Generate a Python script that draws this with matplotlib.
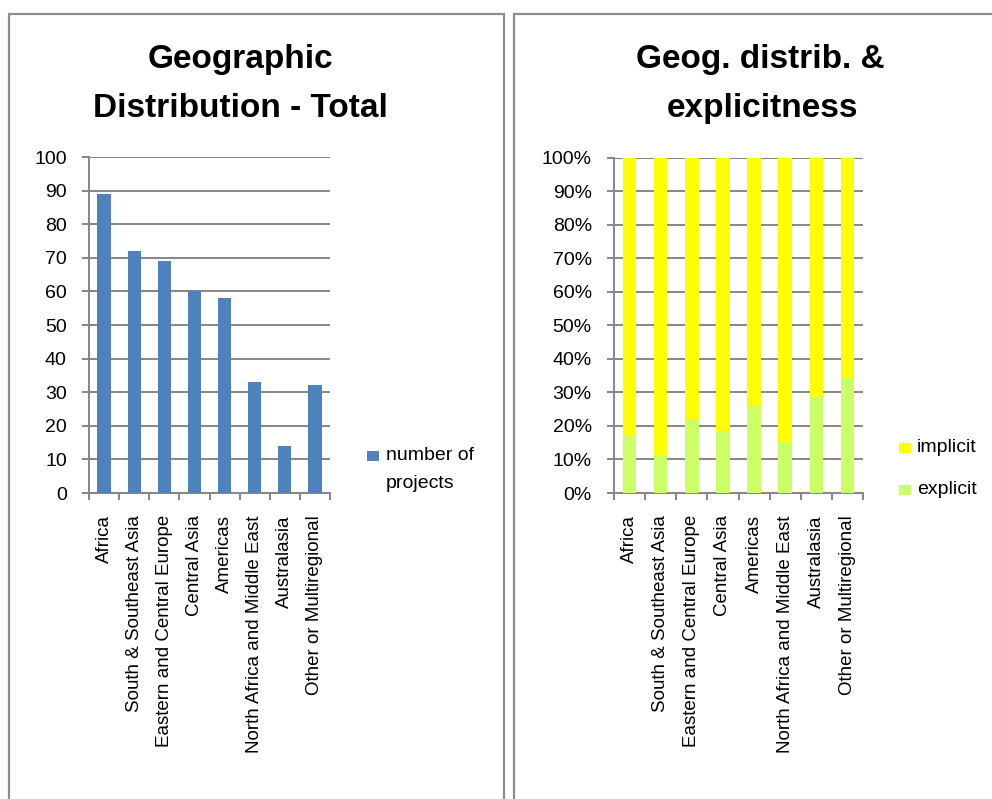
import matplotlib
matplotlib.use("Agg")
import matplotlib.pyplot as plt
from matplotlib.patches import Rectangle
import numpy as np

regions = ["Africa", "South & Southeast Asia", "Eastern and Central Europe",
           "Central Asia", "Americas", "North Africa and Middle East",
           "Australasia", "Other or Multiregional"]
projects = [89, 72, 69, 60, 58, 33, 14, 32]
explicit = [15, 8, 15, 11, 15, 5, 4, 11]
implicit = [74, 64, 54, 49, 43, 28, 10, 21]

left_ticks = list(range(0, 101, 10))
pct_ticks = list(range(0, 101, 10))

BLUE = "#4F81BD"
YELLOW = "#FFFF00"
GREEN = "#CCFF66"
GRID = "#868686"
FRAME = "#8C8C8C"

plt.rcParams["font.family"] = ["Liberation Sans", "DejaVu Sans"]

W, H = 992, 799
fig = plt.figure(figsize=(W / 100, H / 100), dpi=100)


def fx(px):
    return px / W


def fy(py):
    return 1 - py / H


def style_axes(ax, n):
    ax.set_xlim(-0.5, n - 0.5)
    for s in ("top", "right"):
        ax.spines[s].set_visible(False)
    for s in ("left", "bottom"):
        ax.spines[s].set_color(GRID)
        ax.spines[s].set_linewidth(1.4)
    ax.yaxis.grid(True, color=GRID, linewidth=1.4)
    ax.set_axisbelow(True)
    ax.set_xticks(np.arange(n))
    ax.set_xticklabels(regions, rotation=90, ha="center", va="top", fontsize=13.5)
    ax.tick_params(axis="x", which="major", length=0, pad=16)
    ax.set_xticks(np.arange(n + 1) - 0.5, minor=True)
    ax.tick_params(axis="x", which="minor", length=5, width=1.4, color=GRID)
    ax.tick_params(axis="y", length=5, width=1.4, color=GRID, labelsize=14, pad=11)


# Left panel: total projects per region
ax1 = fig.add_axes([fx(89), fy(493), fx(330 - 89), (493 - 157) / H])
x = np.arange(len(regions))
ax1.bar(x, projects, width=0.44, color=BLUE, zorder=3)
ax1.set_ylim(0, 100)
ax1.set_yticks(left_ticks)
style_axes(ax1, len(regions))

# Right panel: explicit vs implicit share per region
ax2 = fig.add_axes([fx(614), fy(493), fx(863 - 614), (493 - 157.5) / H])
tot = np.array(explicit) + np.array(implicit)
exp_pct = np.array(explicit) / tot * 100
imp_pct = np.array(implicit) / tot * 100
ax2.bar(x, exp_pct, width=0.43, color=GREEN, zorder=3)
ax2.bar(x, imp_pct, width=0.43, bottom=exp_pct, color=YELLOW, zorder=3)
ax2.set_ylim(0, 100)
ax2.set_yticks(pct_ticks)
ax2.set_yticklabels([f"{t}%" for t in pct_ticks])
style_axes(ax2, len(regions))

# Panel frames
fig.patches.append(Rectangle((fx(8.5), -0.05), fx(504 - 8.5), fy(13.5) + 0.05,
                             transform=fig.transFigure, fill=False,
                             edgecolor=FRAME, linewidth=1.6))
fig.patches.append(Rectangle((fx(513.5), -0.05), fx(600), fy(13.5) + 0.05,
                             transform=fig.transFigure, fill=False,
                             edgecolor=FRAME, linewidth=1.6))

# Titles
title_kw = dict(ha="center", va="baseline", fontsize=24, fontweight="bold")
fig.text(fx(240), fy(68), "Geographic", **title_kw)
fig.text(fx(240), fy(117), "Distribution - Total", **title_kw)
fig.text(fx(760), fy(68), "Geog. distrib. &", **title_kw)
fig.text(fx(763), fy(117), "explicitness", **title_kw)

# Legends
def key(px, py, color):
    fig.patches.append(Rectangle((fx(px), fy(py + 10)), fx(12), 10 / H,
                                 transform=fig.transFigure, facecolor=color,
                                 edgecolor="none"))

key(367, 451, BLUE)
fig.text(fx(386), fy(456), "number of", va="center", ha="left", fontsize=14)
fig.text(fx(386), fy(483), "projects", va="center", ha="left", fontsize=14)

key(899, 443, YELLOW)
fig.text(fx(917), fy(448), "implicit", va="center", ha="left", fontsize=14)
key(899, 485, GREEN)
fig.text(fx(917), fy(490), "explicit", va="center", ha="left", fontsize=14)

fig.savefig("out.png", dpi=100)
